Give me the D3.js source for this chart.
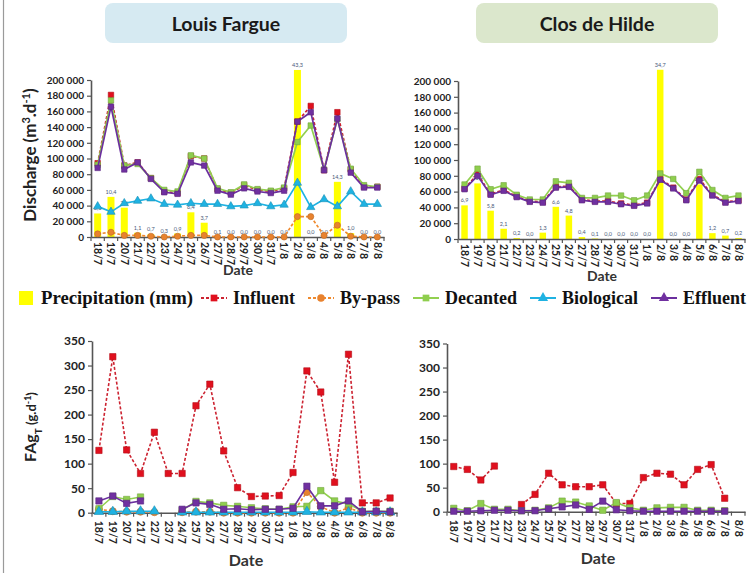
<!DOCTYPE html>
<html>
<head>
<meta charset="utf-8">
<script src="https://cdn.jsdelivr.net/npm/d3@7"></script>
<style>
  body { margin: 0; background: #fff; }
  svg { display: block; font-family: Lato, "Open Sans", sans-serif; }
</style>
</head>
<body>
<div id="chart"></div>
<script>
/* ── Data ─────────────────────────────────────────────────── */
const dates = ['18/7','19/7','20/7','21/7','22/7','23/7','24/7','25/7','26/7','27/7','28/7',
               '29/7','30/7','31/7','1/8','2/8','3/8','4/8','5/8','6/8','7/8','8/8'];

// Louis Fargue — precipitation (mm) and discharge (m3/d)
const lfPrecip    = [6.1,10.4,7.6,1.1,0.7,0.3,0.9,6.4,3.7,0.1,0.0,0.0,0.0,0.0,0.0,43.3,0.0,0.0,14.3,1.0,0.0,0.0];
const lfInfluent  = [94000,181000,91000,95000,75000,58000,56000,103000,100000,61000,56000,66000,60000,58000,62000,147000,167000,85000,159000,86000,64000,64000];
const lfBypass    = [4000,6000,2000,2000,1000,0,1000,2000,2000,0,0,0,0,0,0,26000,26000,2000,15000,1000,0,0];
const lfDecanted  = [92000,174000,91000,93000,75000,60000,58000,104000,100000,62000,57000,67000,61000,59000,63000,121000,142000,86000,150000,87000,66000,64000];
const lfBio       = [39000,32000,43000,46000,49000,42000,41000,43000,42000,42000,39000,40000,43000,39000,41000,69000,38000,48000,39000,58000,42000,42000];
const lfEffluent  = [88000,166000,86000,95000,74000,57000,55000,95000,91000,59000,54000,62000,58000,56000,59000,147000,159000,85000,151000,82000,63000,63000];

// Clos de Hilde — precipitation (mm) and discharge (m3/d)
const chPrecip    = [6.9,11.4,5.8,2.1,0.2,0.0,1.3,6.6,4.8,0.4,0.1,0.0,0.0,0.0,0.0,34.7,0.0,0.0,11.2,1.2,0.7,0.2];
const chInfluent  = [64000,82000,57000,62000,54000,48000,47000,66000,67000,50000,48000,48000,45000,43000,46000,76000,65000,50000,76000,56000,47000,49000];
const chDecanted  = [69000,89000,63000,68000,56000,50000,50000,73000,71000,52000,52000,55000,55000,49000,55000,83000,76000,58000,85000,62000,52000,55000];
const chEffluent  = [63000,80000,56000,61000,53000,47000,46000,65000,66000,49000,47000,47000,44000,42000,45000,75000,64000,49000,74000,55000,46000,48000];

// Louis Fargue — FAgT (g/d)
const lfFagInfluent = [127,318,128,80,164,80,80,218,262,126,51,33,34,35,82,289,246,62,323,20,20,30];
const lfFagBypass   = [7,3,2,2,1,null,1,2,2,0,0,0,0,0,0,42,12,0,10,0,0,0];
const lfFagDecanted = [8,33,27,32,null,null,5,23,20,15,13,10,8,7,12,13,45,24,18,3,3,3];
const lfFagBio      = [2,2,3,3,3,null,1,1,1,1,1,1,1,1,1,2,1,1,1,1,1,1];
const lfFagEffluent = [24,34,19,24,null,null,7,20,17,7,8,6,7,7,9,54,14,14,24,2,3,2];

// Clos de Hilde — FAgT (g/d)
const chFagInfluent = [94,88,66,95,null,15,36,80,56,52,52,56,17,17,71,80,78,56,88,98,28,null];
const chFagDecanted = [7,2,17,5,5,2,3,8,22,20,12,3,19,8,3,8,9,9,3,3,2,null];
const chFagEffluent = [1,1,2,3,3,2,2,6,10,14,5,22,4,2,1,1,1,1,1,1,1,null];

const dischargeTicks = [0,20000,40000,60000,80000,100000,120000,140000,160000,180000,200000];
const fagTicks       = [0,50,100,150,200,250,300,350];

/* ── Styles ───────────────────────────────────────────────── */
const SERIES = {
  influent:   { line:'#cc2230', fill:'#e0101e', dash:'3,2', sym:d3.symbolSquare },
  bypass:     { line:'#ef8a2e', fill:'#e8822e', dash:'3,2', sym:d3.symbolCircle },
  decanted:   { line:'#92d050', fill:'#8fce4e', dash:null,  sym:d3.symbolSquare },
  biological: { line:'#1fb2e2', fill:'#1fb2e2', dash:null,  sym:d3.symbolTriangle },
  effluent:   { line:'#6b2f9e', fill:'#7030a0', dash:null,  sym:d3.symbolSquare },
};
const YELLOW = '#ffff00';
const FONT   = 'Lato, "Open Sans", sans-serif';

const loc    = d3.formatLocale({ decimal:',', thousands:' ', grouping:[3], currency:['',''] });
const fmtInt = loc.format(',d');
const fmtMm  = loc.format('.1f');

const W = 752, H = 573;
const svg = d3.select('#chart').append('svg').attr('width', W).attr('height', H);

// left frame line
svg.append('line').attr('x1', 3.5).attr('x2', 3.5).attr('y1', 0).attr('y2', H)
  .attr('stroke', '#9a9a9a').attr('stroke-width', 1.2);

/* ── Titles ───────────────────────────────────────────────── */
function titleBox(x, w, fill, label) {
  svg.append('rect').attr('x', x).attr('y', 3).attr('width', w).attr('height', 40)
    .attr('rx', 8).attr('fill', fill);
  svg.append('text').attr('x', x + w / 2).attr('y', 31)
    .attr('text-anchor', 'middle').attr('font-size', 19.5).attr('font-weight', 700)
    .attr('fill', '#1a1a1a').text(label);
}
titleBox(105, 242, '#d6eaf2', 'Louis Fargue');
titleBox(476, 242, '#dbe7cc', 'Clos de Hilde');

/* ── Panel ────────────────────────────────────────────────── */
function drawPanel(cfg) {
  const x = d3.scaleBand().domain(dates).range([cfg.x0, cfg.x1]);
  const y = d3.scaleLinear().domain([0, cfg.yMax]).range([cfg.y0, cfg.yTop]);
  const cx = i => x(dates[i]) + x.bandwidth() / 2;
  const g = svg.append('g');

  // precipitation bars on a hidden secondary axis
  if (cfg.precip) {
    const yP = d3.scaleLinear().domain([0, cfg.precipMax]).range([cfg.y0, cfg.yTop]);
    g.selectAll('rect.bar').data(cfg.precip).join('rect').attr('class', 'bar')
      .attr('x', (d, i) => cx(i) - cfg.barW / 2)
      .attr('width', cfg.barW)
      .attr('y', d => yP(d))
      .attr('height', d => cfg.y0 - yP(d))
      .attr('fill', YELLOW);
    g.selectAll('text.plbl').data(cfg.precip).join('text').attr('class', 'plbl')
      .attr('x', (d, i) => cx(i))
      .attr('y', d => yP(d) - 3)
      .attr('text-anchor', 'middle')
      .attr('font-size', 5.5).attr('fill', '#4a5a7a')
      .text(d => fmtMm(d));
  }

  // axes
  const yAx = g.append('g').attr('transform', `translate(${cfg.x0},0)`)
    .call(d3.axisLeft(y).tickValues(cfg.yTicks).tickFormat(fmtInt).tickSize(4).tickSizeOuter(0).tickPadding(3));
  yAx.select('.domain').attr('stroke', '#555').attr('stroke-width', 1.6);
  yAx.selectAll('.tick line').attr('stroke', '#555').attr('stroke-width', 1.2);
  yAx.selectAll('text').attr('font-family', FONT).attr('font-weight', 700)
    .attr('font-size', cfg.yFont).attr('fill', '#222');

  const xAx = g.append('g').attr('transform', `translate(0,${cfg.y0})`)
    .call(d3.axisBottom(x).tickSize(0).tickSizeOuter(0));
  xAx.select('.domain').attr('stroke', '#555').attr('stroke-width', 1.6);
  xAx.selectAll('text')
    .attr('font-family', FONT).attr('font-weight', 700).attr('font-size', 10.5).attr('fill', '#222')
    .attr('text-anchor', 'start').attr('transform', 'rotate(90)')
    .attr('x', cfg.xLblGap).attr('y', 0).attr('dy', '.35em');
  // category boundary ticks
  g.selectAll('line.xt').data(d3.range(dates.length + 1)).join('line').attr('class', 'xt')
    .attr('x1', i => cfg.x0 + i * x.step()).attr('x2', i => cfg.x0 + i * x.step())
    .attr('y1', cfg.y0).attr('y2', cfg.y0 + 4)
    .attr('stroke', '#555').attr('stroke-width', 1.2);

  g.append('text').attr('x', cfg.dateX).attr('y', cfg.dateY)
    .attr('text-anchor', 'middle').attr('font-size', cfg.dateFont).attr('font-weight', 700)
    .attr('fill', '#333').text('Date');

  // series
  cfg.series.forEach(([key, values]) => {
    const st = SERIES[key];
    const line = d3.line().defined(d => d != null).x((d, i) => cx(i)).y(d => y(d));
    g.append('path').datum(values)
      .attr('d', line).attr('fill', 'none')
      .attr('stroke', st.line).attr('stroke-width', cfg.lineW)
      .attr('stroke-dasharray', st.dash);
    g.selectAll(null).data(values.map((v, i) => [v, i]).filter(d => d[0] != null)).join('path')
      .attr('transform', d => `translate(${cx(d[1])},${y(d[0])})`)
      .attr('d', d3.symbol(st.sym, cfg.markSize))
      .attr('fill', st.fill).attr('stroke', d3.color(st.fill).darker(0.6)).attr('stroke-width', 0.6);
  });
}

drawPanel({
  x0: 91, x1: 384, y0: 237, yTop: 80, yMax: 200000, yTicks: dischargeTicks, yFont: 10,
  precip: lfPrecip, precipMax: 40.7, barW: 7, xLblGap: 5, lineW: 1.7, markSize: 30,
  dateX: 238, dateY: 275, dateFont: 14,
  series: [['influent', lfInfluent], ['bypass', lfBypass], ['decanted', lfDecanted],
           ['biological', lfBio], ['effluent', lfEffluent]]
});
drawPanel({
  x0: 458, x1: 745, y0: 239, yTop: 81, yMax: 200000, yTicks: dischargeTicks, yFont: 10,
  precip: chPrecip, precipMax: 32.4, barW: 6.5, xLblGap: 5, lineW: 1.7, markSize: 30,
  dateX: 602, dateY: 281, dateFont: 14,
  series: [['influent', chInfluent], ['decanted', chDecanted], ['effluent', chEffluent]]
});
drawPanel({
  x0: 92, x1: 397, y0: 512.7, yTop: 341, yMax: 350, yTicks: fagTicks, yFont: 12,
  xLblGap: 8, lineW: 1.6, markSize: 40,
  dateX: 246, dateY: 566, dateFont: 16,
  series: [['influent', lfFagInfluent], ['bypass', lfFagBypass], ['decanted', lfFagDecanted],
           ['biological', lfFagBio], ['effluent', lfFagEffluent]]
});
drawPanel({
  x0: 447, x1: 745, y0: 511.7, yTop: 343.5, yMax: 350, yTicks: fagTicks, yFont: 12,
  xLblGap: 8, lineW: 1.6, markSize: 40,
  dateX: 598, dateY: 564, dateFont: 16,
  series: [['influent', chFagInfluent], ['decanted', chFagDecanted], ['effluent', chFagEffluent]]
});

/* ── Axis titles ──────────────────────────────────────────── */
const t1 = svg.append('text').attr('transform', 'translate(36,155) rotate(-90)')
  .attr('text-anchor', 'middle').attr('font-size', 17).attr('font-weight', 700).attr('fill', '#222');
t1.append('tspan').text('Discharge (m');
t1.append('tspan').attr('font-size', 11).attr('baseline-shift', 'super').text('3');
t1.append('tspan').text('.d');
t1.append('tspan').attr('font-size', 11).attr('baseline-shift', 'super').text('-1');
t1.append('tspan').text(')');

const t2 = svg.append('text').attr('transform', 'translate(36,427) rotate(-90)')
  .attr('text-anchor', 'middle').attr('font-weight', 700).attr('fill', '#222');
t2.append('tspan').attr('font-size', 16).text('FAg');
t2.append('tspan').attr('font-size', 10).attr('baseline-shift', 'sub').text('T');
t2.append('tspan').attr('font-size', 13).text(' (g.d');
t2.append('tspan').attr('font-size', 9).attr('baseline-shift', 'super').text('-1');
t2.append('tspan').attr('font-size', 13).text(')');

/* ── Legend ───────────────────────────────────────────────── */
const LEG_Y = 298;
const legend = svg.append('g').attr('font-family', '"Liberation Serif", "Times New Roman", serif')
  .attr('font-weight', 700).attr('font-size', 18).attr('fill', '#111');

legend.append('rect').attr('x', 19).attr('y', LEG_Y - 7).attr('width', 14).attr('height', 14).attr('fill', YELLOW);
legend.append('text').attr('x', 41).attr('y', LEG_Y + 6)
  .attr('textLength', 152).attr('lengthAdjust', 'spacingAndGlyphs').text('Precipitation (mm)');

// [series, label, line start x, text start x]
const legItems = [
  ['influent',   'Influent',   201, 233],
  ['bypass',     'By-pass',    308, 340],
  ['decanted',   'Decanted',   413, 445],
  ['biological', 'Biological', 530, 562],
  ['effluent',   'Effluent',   651, 683],
];
legItems.forEach(([key, label, lx, tx]) => {
  const st = SERIES[key];
  legend.append('line').attr('x1', lx).attr('x2', lx + 26).attr('y1', LEG_Y).attr('y2', LEG_Y)
    .attr('stroke', st.line).attr('stroke-width', 2).attr('stroke-dasharray', st.dash);
  legend.append('path').attr('transform', `translate(${lx + 13},${LEG_Y})`)
    .attr('d', d3.symbol(key === 'effluent' ? d3.symbolTriangle : st.sym, 45))
    .attr('fill', st.fill);
  legend.append('text').attr('x', tx).attr('y', LEG_Y + 6).text(label);
});
</script>
</body>
</html>
